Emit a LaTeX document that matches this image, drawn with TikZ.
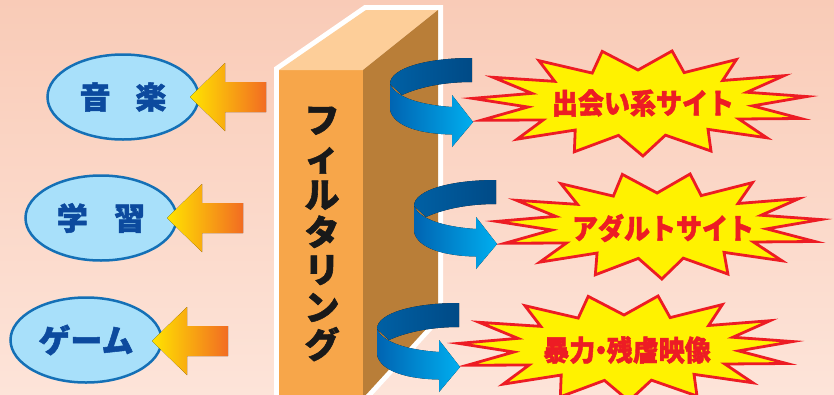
\documentclass[tikz,border=0pt]{standalone}
\usepackage{fontspec}
\newfontfamily\jp{Noto Sans CJK JP}[BoldFeatures={FakeBold=1.6}]
\usetikzlibrary{shapes.geometric}
\definecolor{bgtop}{RGB}{249,203,183}
\definecolor{bgbot}{RGB}{253,228,217}
\definecolor{ellfill}{RGB}{168,224,250}
\definecolor{elldraw}{RGB}{20,112,182}
\definecolor{elltext}{RGB}{12,74,158}
\definecolor{arrY}{RGB}{255,228,0}
\definecolor{arrM}{RGB}{248,160,30}
\definecolor{arrO}{RGB}{242,108,34}
\definecolor{boxfront}{RGB}{247,166,74}
\definecolor{boxtop}{RGB}{253,206,153}
\definecolor{boxside}{RGB}{185,126,56}
\definecolor{ribdark}{RGB}{0,74,134}
\definecolor{ribdarkL}{RGB}{0,96,164}
\definecolor{ribL}{RGB}{0,100,178}
\definecolor{ribR}{RGB}{0,174,239}
\definecolor{burstfill}{RGB}{255,242,0}
\definecolor{burstred}{RGB}{237,28,36}
\tikzset{
  labelell/.style={ellipse, draw=elldraw, line width=2.5pt, fill=ellfill,
    minimum width=151pt, minimum height=85pt, inner sep=0pt, text=elltext,
    font=\jp\bfseries\fontsize{31}{31}\selectfont},
  orangefill/.style={left color=arrY, middle color=arrM, right color=arrO},
  burstline/.style={draw=burstred, fill=burstfill, line width=2.8pt, line join=miter},
  bursttext/.style={text=burstred, inner sep=0pt, yscale=1.1, font=\jp\bfseries\fontsize{26}{26}\selectfont},
  orangearrow/.pic={
    \fill[orangefill] (0,0) -- (35,-34) -- (35,-15) -- (76,-15) -- (76,15) -- (35,15) -- (35,34) -- cycle;
  },
  ribbon/.pic={
    \fill[left color=ribdarkL, right color=ribdark]
      (0,-64) .. controls (-45,-64) and (-82,-54) .. (-82,-38)
      -- (-70,-27) .. controls (-50,-36) and (-25,-40) .. (0,-40) -- cycle;
    \fill[left color=ribL, right color=ribR]
      (-82,-38) -- (-82,-12) .. controls (-78,5) and (-50,12) .. (-20,12.5)
      -- (-20,25) -- (1,0) -- (-20,-27) -- (-20,-15)
      .. controls (-50,-17) and (-76,-24) .. (-82,-38) -- cycle;
  }
}
\newcommand\myburst[3]{%
  \draw[burstline] plot[samples at={0,...,29}, variable=\k]
    ({#1 + (#3-55*mod(\k,2))*cos(7+12*\k)}, {#2 - (53-20*mod(\k,2))*sin(7+12*\k)}) -- cycle;
}
\begin{document}
\begin{tikzpicture}[x=1pt, y=-1pt]
\useasboundingbox (0,0) rectangle (834,394);
% background
\fill[top color=bgtop, bottom color=bgbot] (0,0) rectangle (834,394);

% box with white outline
\draw[white, line width=10pt, line join=miter, fill=white]
  (279,400) -- (279,70) -- (366,10) -- (438,10) -- (438,316) -- (363,398) -- cycle;
\fill[boxfront] (279,400) rectangle (363,70);
\fill[boxtop] (279,70) -- (366,10) -- (438,10) -- (363,70) -- cycle;
\fill[boxside] (363,70) -- (438,10) -- (438,316) -- (363,398) -- cycle;
\node[font=\jp\bfseries\fontsize{35}{37.5}\selectfont, align=center, text=black!90, inner sep=0pt]
  (filt) at (322,234) {フ\\ィ\\ル\\タ\\リ\\ン\\グ};

% left ellipses
\node[labelell] (e1) at (123,97) {音\hspace{0.8em}楽};
\node[labelell] (e2) at (101,218) {学\hspace{0.85em}習};
\node[labelell, font=\jp\bfseries\fontsize{32}{32}\selectfont] (e3) at (86,340) {ゲーム};

% orange arrows
\pic at (190,97) {orangearrow};
\pic at (167,218) {orangearrow};
\pic at (152,341) {orangearrow};

% starbursts
\myburst{640}{103}{168}
\myburst{659}{226}{163}
\myburst{626}{348}{168}
\node[bursttext] (s1) at (643,103) {出会い系サイト};
\node[bursttext] (s2) at (663,228) {アダルトサイト};
\node[bursttext] (s3) at (627,350) {暴力\hspace{-0.28em}・\hspace{-0.28em}残虐映像};

% blue ribbons
\pic at (472,122) {ribbon};
\pic at (496,244) {ribbon};
\pic at (459,367) {ribbon};
\end{tikzpicture}
\end{document}
